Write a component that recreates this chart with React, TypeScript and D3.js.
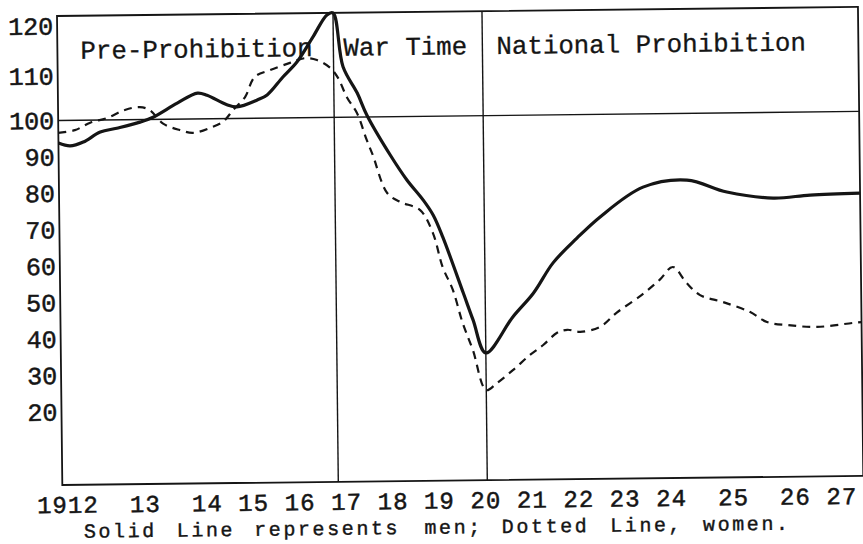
import React, { useRef, useEffect } from "react";
import * as d3 from "d3";

// index numbers (1912..1927)
const menYears = [
  1912, 1912.21, 1912.45, 1912.76, 1913.06, 1913.48, 1913.72, 1914.16, 1914.53, 1914.7,
  1915.06, 1915.24, 1915.61, 1915.79, 1916.08, 1916.34, 1916.63, 1916.89, 1917, 1917.19,
  1917.47, 1917.66, 1918.12, 1918.45, 1918.77, 1918.97, 1919.16, 1919.56, 1919.75, 1920,
  1920.51, 1920.9, 1921.27, 1921.72, 1922.15, 1922.96, 1923.78, 1924.52, 1925.38, 1926.07,
  1927,
];
const menValues = [
  93.8, 93.0, 94.0, 96.7, 97.7, 99.3, 100.5, 103.6, 105.8, 105.3,
  103.1, 102.6, 104.1, 105.2, 109.2, 112.3, 117.2, 121.6, 122, 111.2,
  105.4, 100.4, 89.5, 82.6, 77.1, 72.9, 66.8, 51.4, 44.0, 34.9,
  44.7, 51.2, 59.4, 66.1, 71.8, 79.9, 81.7, 78.3, 76.5, 77.2,
  77.6,
];

const womenYears = [
  1912, 1912.3, 1912.58, 1912.88, 1913.21, 1913.48, 1913.66, 1913.9, 1914.2, 1914.44,
  1914.75, 1914.99, 1915.17, 1915.39, 1915.57, 1915.85, 1916.21, 1916.48, 1916.7, 1916.94,
  1917.09, 1917.26, 1917.46, 1917.65, 1917.77, 1918.05, 1918.31, 1918.71, 1918.96, 1919.15,
  1919.35, 1919.54, 1919.74, 1920, 1920.2, 1920.5, 1920.82, 1921.07, 1921.33, 1921.52,
  1921.76, 1922.13, 1922.44, 1922.91, 1923.25, 1923.5, 1923.75, 1924.0, 1924.43, 1924.93,
  1925.24, 1925.63, 1926.17, 1926.84, 1927,
];
const womenValues = [
  96.6, 97.3, 99.3, 100.4, 102.2, 102.8, 102.1, 98.8, 97.0, 96.2,
  97.5, 99.2, 101.9, 104.8, 109.3, 110.7, 112.1, 113.0, 112.6, 111.0,
  108.8, 104.5, 100.9, 93.7, 89.5, 79.1, 76.6, 74.3, 68.0, 58.6,
  52.3, 43.2, 35.7, 24.7, 26.6, 30.1, 34.2, 36.9, 40.2, 41.0,
  40.4, 41.7, 45.5, 50.3, 54.4, 57.9, 53.5, 50.1, 48.1, 45.3,
  42.5, 41.6, 41.0, 42.0, 42.2,
];

const yTicks = [120, 110, 100, 90, 80, 70, 60, 50, 40, 30, 20];
// typed as one line on the original, spacing included
const xLabelRow = "1912  13  14 15 16 17 18 19 20 21 22 23 24  25  26 27";
const periods = ["Pre-Prohibition", "War Time", "National Prohibition"];
const periodStart = [1912, 1917, 1920];
const caption = "Solid Line represents men; Dotted Line, women.";

// split a typed line into words with their character column
const columns = (s) => Array.from(s.matchAll(/\S+/g), (m) => ({ text: m[0], col: m.index }));

const App = () => {
  const d3Container = useRef(null);

  useEffect(() => {
    if (!d3Container.current) return;
    const svg = d3.select(d3Container.current);
    svg.selectAll("*").remove();

    const ink = "#151515";
    const font = "'Liberation Mono', 'Courier New', monospace";
    const left = 57, right = 858, top = 16, bottom = 485;
    const pitch = 15.48; // typewriter character width

    // hand-ruled chart: each period has its own width, upper band is stretched
    const x = d3
      .scaleLinear()
      .domain([1912, 1917, 1920, 1927])
      .range([left, 333, 482, right]);
    const y = d3
      .scaleLinear()
      .domain([0, 100, 110, 122])
      .range([bottom, 120.5, 76, top]);

    // the scan is slightly tilted
    const g = svg.append("g").attr("transform", `rotate(-0.65, ${left}, ${top})`);

    // frame
    g.append("rect")
      .attr("x", left)
      .attr("y", top)
      .attr("width", right - left)
      .attr("height", bottom - top)
      .attr("fill", "none")
      .attr("stroke", ink)
      .attr("stroke-width", 1.8);

    // 100 line
    g.append("line")
      .attr("x1", left)
      .attr("x2", right)
      .attr("y1", y(100))
      .attr("y2", y(100))
      .attr("stroke", ink)
      .attr("stroke-width", 1.4);

    // period dividers
    g.selectAll("line.divider")
      .data(periodStart.slice(1))
      .enter()
      .append("line")
      .attr("class", "divider")
      .attr("x1", (d) => x(d))
      .attr("x2", (d) => x(d))
      .attr("y1", top)
      .attr("y2", bottom)
      .attr("stroke", ink)
      .attr("stroke-width", 1.4);

    const line = d3
      .line()
      .x((d) => x(d[0]))
      .y((d) => y(d[1]))
      .curve(d3.curveCatmullRom.alpha(0.5));

    // women, dotted
    g.append("path")
      .datum(d3.zip(womenYears, womenValues))
      .attr("d", line)
      .attr("fill", "none")
      .attr("stroke", ink)
      .attr("stroke-width", 2.2)
      .attr("stroke-dasharray", "8,6");

    // men, solid
    g.append("path")
      .datum(d3.zip(menYears, menValues))
      .attr("d", line)
      .attr("fill", "none")
      .attr("stroke", ink)
      .attr("stroke-width", 3.2)
      .attr("stroke-linejoin", "round");

    // y labels
    const yAxis = g
      .append("g")
      .attr("transform", `translate(${left - 4},0)`)
      .call(d3.axisLeft(y).tickValues(yTicks).tickSize(0).tickPadding(0));
    yAxis.select(".domain").remove();
    yAxis
      .attr("font-family", font)
      .attr("font-size", 25)
      .selectAll("text")
      .attr("fill", ink)
      .attr("stroke", ink)
      .attr("stroke-width", 0.5)
      .attr("dy", "0.32em");

    // period headings
    const periodPad = [23, 10, 14];
    g.selectAll("text.period")
      .data(periods)
      .enter()
      .append("text")
      .attr("class", "period")
      .attr("x", (d, i) => x(periodStart[i]) + periodPad[i])
      .attr("y", 59)
      .attr("font-family", font)
      .attr("font-size", 25.8)
      .attr("fill", ink)
      .attr("stroke", ink)
      .attr("stroke-width", 0.3)
      .text((d) => d);

    // x labels, at their typed columns
    g.selectAll("text.xlabel")
      .data(columns(xLabelRow))
      .enter()
      .append("text")
      .attr("class", "xlabel")
      .attr("x", (d) => 31.5 + d.col * pitch)
      .attr("y", 513)
      .attr("font-family", font)
      .attr("font-size", 24)
      .attr("letter-spacing", pitch - 24 * 0.6)
      .attr("fill", ink)
      .attr("stroke", ink)
      .attr("stroke-width", 0.5)
      .text((d) => d.text);

    // caption, word by word on the typed columns
    g.selectAll("text.caption")
      .data(columns(caption))
      .enter()
      .append("text")
      .attr("class", "caption")
      .attr("x", (d) => 78 + d.col * pitch)
      .attr("y", 538)
      .attr("font-family", font)
      .attr("font-size", 20)
      .attr("letter-spacing", 2.6)
      .attr("fill", ink)
      .attr("stroke", ink)
      .attr("stroke-width", 0.4)
      .text((d) => d.text);
  }, []);

  return (
    <svg
      ref={d3Container}
      width={863}
      height={544}
      style={{ position: "absolute", left: 0, top: 0, background: "#fff" }}
    />
  );
};

export default App;
